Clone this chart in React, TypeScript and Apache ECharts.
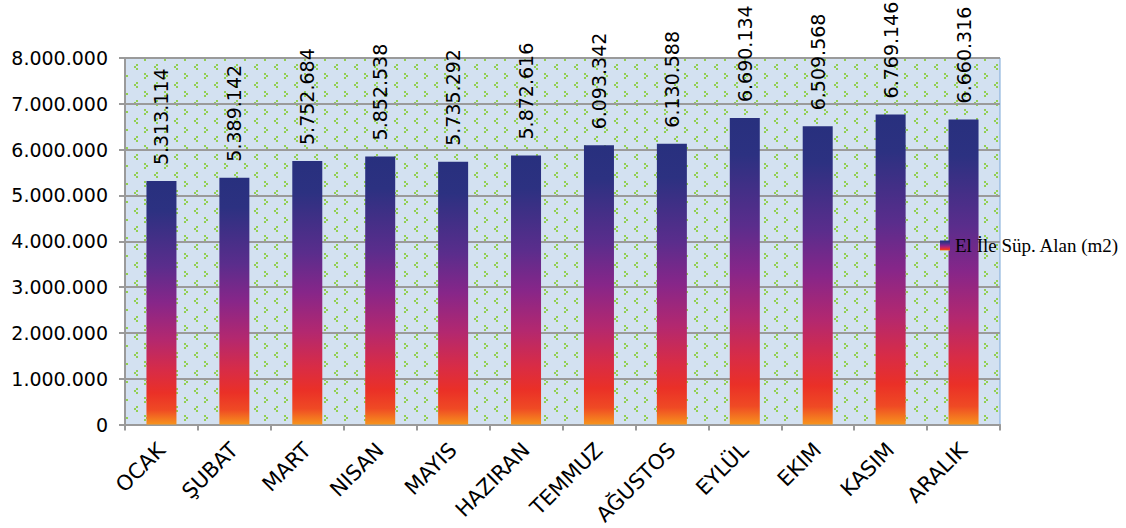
import React, { useEffect, useRef } from "react";
import * as echarts from "echarts";

const categories = ["OCAK", "ŞUBAT", "MART", "NISAN", "MAYIS", "HAZIRAN", "TEMMUZ", "AĞUSTOS", "EYLÜL", "EKIM", "KASIM", "ARALIK"];
const values = [5313114, 5389142, 5752684, 5852538, 5735292, 5872616, 6093342, 6130588, 6690134, 6509568, 6769146, 6660316];
const seriesName = "El İle Süp. Alan (m2)";
const yMin = 0;
const yMax = 8000000;
const yStep = 1000000;

const fmt = (v: number) => (v === 0 ? "0" : String(Math.round(v)).replace(/\B(?=(\d{3})+(?!\d))/g, "."));

function makePattern(): string {
  const c = document.createElement("canvas");
  c.width = 20;
  c.height = 18;
  const ctx = c.getContext("2d")!;
  ctx.fillStyle = "#d3e1f1";
  ctx.fillRect(0, 0, 20, 18);
  ctx.fillStyle = "#92cf52";
  const gt = (x: number, y: number) => {
    ctx.fillRect(x, y, 2, 2);
    ctx.fillRect(x + 2, y + 2, 2, 2);
    ctx.fillRect(x, y + 4, 2, 2);
  };
  const lt = (x: number, y: number) => {
    ctx.fillRect(x + 2, y, 2, 2);
    ctx.fillRect(x, y + 2, 2, 2);
    ctx.fillRect(x + 2, y + 4, 2, 2);
  };
  gt(4, 1);
  lt(14, 10);
  return c.toDataURL();
}

export default function App() {
  const ref = useRef<HTMLDivElement>(null);
  useEffect(() => {
    document.body.style.margin = "0";
    const chart = echarts.init(ref.current!, undefined, { renderer: "svg" });
    const barGradient = new echarts.graphic.LinearGradient(0, 0, 0, 1, [
      { offset: 0, color: "#28307e" },
      { offset: 0.12, color: "#2c3181" },
      { offset: 0.35, color: "#5a2d8c" },
      { offset: 0.5, color: "#872689" },
      { offset: 0.65, color: "#b3286f" },
      { offset: 0.78, color: "#d82c46" },
      { offset: 0.87, color: "#ea3027" },
      { offset: 0.94, color: "#ef4a24" },
      { offset: 1, color: "#f7941d" },
    ]);
    chart.setOption({
      animation: false,
      grid: {
        left: 125,
        right: 126,
        top: 58,
        bottom: 101,
        show: true,
        backgroundColor: { image: makePattern(), repeat: "repeat" },
        borderColor: "#7aa7d8",
        borderWidth: 1,
      },
      legend: {
        left: 935,
        top: 231,
        icon: "rect",
        itemWidth: 10,
        itemHeight: 10,
        itemGap: 4,
        textStyle: { fontFamily: "Liberation Serif", fontSize: 19, color: "#000" },
        data: [seriesName],
      },
      xAxis: {
        type: "category",
        data: categories,
        axisLine: { lineStyle: { color: "#9a9a9a", width: 2 } },
        axisTick: { show: true, length: 6, lineStyle: { color: "#9a9a9a", width: 2 } },
        axisLabel: {
          interval: 0,
          rotate: 45,
          margin: 22,
          color: "#000",
          fontFamily: "DejaVu Sans",
          fontSize: 21,
        },
      },
      yAxis: {
        type: "value",
        min: yMin,
        max: yMax,
        interval: yStep,
        axisLine: { show: true, lineStyle: { color: "#9a9a9a", width: 2 } },
        axisTick: { show: true, length: 6, lineStyle: { color: "#9a9a9a", width: 2 } },
        splitLine: { lineStyle: { color: "#9a9a9a", width: 2 } },
        axisLabel: {
          margin: 17,
          color: "#000",
          fontFamily: "DejaVu Sans",
          fontSize: 19,
          formatter: (v: number) => fmt(v),
        },
      },
      series: [
        {
          name: seriesName,
          type: "bar",
          data: values,
          barWidth: 30,
          itemStyle: { color: barGradient },
          label: {
            show: true,
            position: "top",
            rotate: 90,
            align: "left",
            verticalAlign: "middle",
            distance: 16,
            color: "#000",
            fontFamily: "DejaVu Sans",
            fontSize: 19,
            formatter: (p: any) => fmt(p.value),
          },
        },
      ],
    });
    return () => chart.dispose();
  }, []);
  return <div ref={ref} style={{ width: 1126, height: 528 }} />;
}
